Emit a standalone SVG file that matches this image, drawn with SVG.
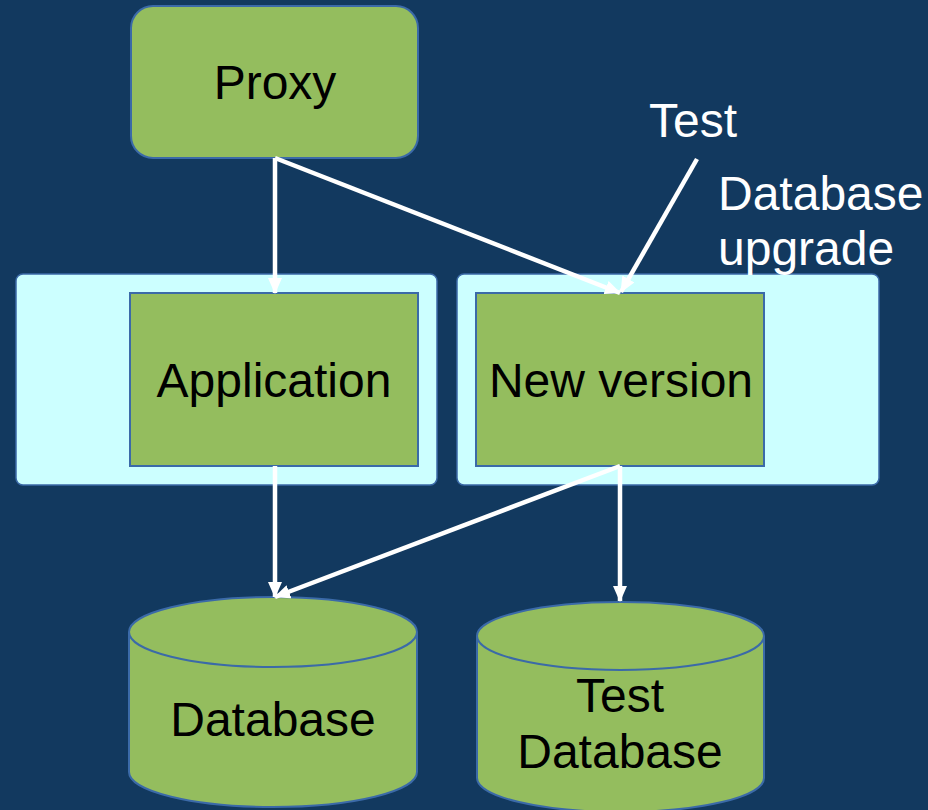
<svg xmlns="http://www.w3.org/2000/svg" width="928" height="810" viewBox="0 0 928 810">
<defs>
<marker id="ah" markerUnits="userSpaceOnUse" markerWidth="16" markerHeight="14" refX="15" refY="7" orient="auto">
<path d="M0,0 L16,7 L0,14 Z" fill="#FFFFFF"/>
</marker>
</defs>
<style>
.bg{fill:#12395F}
.green{fill:#94BD5E;stroke:#3B6AA8;stroke-width:2}
.cont{fill:#CCFFFF;stroke:#3B6AA8;stroke-width:1.5}
.t{font-family:"Liberation Sans",Arial,sans-serif;font-size:48px;fill:#000000;text-anchor:middle}
.w{font-family:"Liberation Sans",Arial,sans-serif;font-size:48px;fill:#FFFFFF}
.c{stroke:#FFFFFF;stroke-width:4.5;fill:none;marker-end:url(#ah)}
</style>
<rect class="bg" x="0" y="0" width="928" height="810"/>
<g id="proxy">
<rect class="green" x="131" y="6" width="287" height="152" rx="22"/>
<text class="t" x="275" y="99">Proxy</text>
</g>
<g id="app-container">
<rect class="cont" x="16" y="274" width="421" height="211" rx="7"/>
</g>
<g id="new-container">
<rect class="cont" x="457" y="274" width="422" height="211" rx="7"/>
</g>
<g id="application">
<rect class="green" x="130" y="293" width="288" height="173"/>
<text class="t" x="274" y="397">Application</text>
</g>
<g id="new-version">
<rect class="green" x="476" y="293" width="288" height="173"/>
<text class="t" x="621" y="397">New version</text>
</g>
<g id="database">
<path class="green" d="M129,632 L129,772 A144,35 0 0 0 417,772 L417,632 A144,35 0 0 0 129,632 Z"/>
<path d="M129,632 A144,35 0 0 0 417,632" fill="none" stroke="#3B6AA8" stroke-width="2"/>
<text class="t" x="273" y="736">Database</text>
</g>
<g id="test-database">
<path class="green" d="M477,636 L477,778 A143.5,34 0 0 0 764,778 L764,636 A143.5,34 0 0 0 477,636 Z"/>
<path d="M477,636 A143.5,34 0 0 0 764,636" fill="none" stroke="#3B6AA8" stroke-width="2"/>
<text class="t" x="620" y="712">Test</text>
<text class="t" x="620" y="768">Database</text>
</g>
<g id="label">
<text class="w" x="649" y="137">Test</text>
<text class="w" x="718" y="210">Database</text>
<text class="w" x="718" y="265">upgrade</text>
</g>
<g id="connectors">
<line class="c" x1="275" y1="158" x2="275" y2="293"/>
<line class="c" x1="275" y1="158" x2="620" y2="293"/>
<line class="c" x1="697" y1="159" x2="621" y2="292"/>
<line class="c" x1="275" y1="466" x2="275" y2="597"/>
<line class="c" x1="620" y1="466" x2="275" y2="597"/>
<line class="c" x1="620" y1="466" x2="620" y2="601"/>
</g>
</svg>
